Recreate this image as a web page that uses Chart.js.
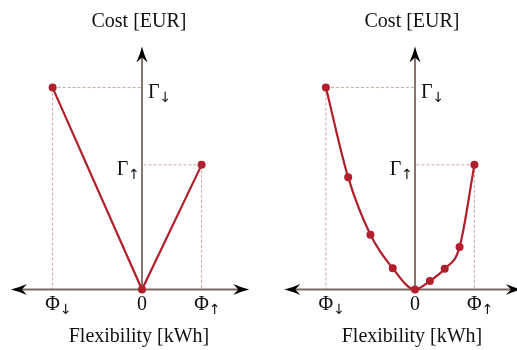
<!DOCTYPE html>
<html>
<head>
<meta charset="utf-8">
<script src="https://cdn.jsdelivr.net/npm/chart.js@4/dist/chart.umd.min.js"></script>
<style>
  html, body { margin: 0; padding: 0; background: #ffffff; }
  #wrap { position: relative; width: 517px; height: 350px; overflow: hidden; }
  canvas { position: absolute; top: 0; }
  #linearCost { left: 0; }
  #curveCost { left: 258px; }
</style>
</head>
<body>
<div id="wrap">
  <canvas id="linearCost" width="258" height="350"></canvas>
  <canvas id="curveCost" width="259" height="350"></canvas>
</div>
<script>
// Flexibility offered (x) against its cost (y), in abstract units.
const linearFlex = [-3, 0, 2];
const linearCost = [8.1, 0, 5.0];

const curveFlex = [-3, -2.25, -1.5, -0.75, 0, 0.5, 1, 1.5, 2];
const curveCost = [8.1, 4.5, 2.2, 0.85, 0, 0.34, 0.83, 1.7, 5.0];

// Tick marks on both axes: value, base symbol, subscript arrow.
const xTickValues = [-3, 0, 2];
const xTickSymbols = ['Φ', '0', 'Φ'];
const xTickSubs = ['↓', '', '↑'];
const yTickValues = [8.1, 5.0];
const yTickSymbols = ['Γ', 'Γ'];
const yTickSubs = ['↓', '↑'];

const xTitle = 'Flexibility [kWh]';
const yTitle = 'Cost [EUR]';

const RED = '#b01f2b';
const AXIS = '#7c685c';
const GUIDE = '#c8a79e';
const FONT = '"Liberation Serif", "DejaVu Serif", serif';
const SUB_FONT = '14px "DejaVu Sans", sans-serif';

function arrowHead(ctx, tx, ty, angle) {
  ctx.save();
  ctx.translate(tx, ty);
  ctx.rotate(angle);
  ctx.beginPath();
  ctx.moveTo(0, 0);
  ctx.quadraticCurveTo(-7, -1.6, -16, -5.6);
  ctx.lineTo(-11, 0);
  ctx.lineTo(-16, 5.6);
  ctx.quadraticCurveTo(-7, 1.6, 0, 0);
  ctx.closePath();
  ctx.fillStyle = '#000000';
  ctx.fill();
  ctx.restore();
}

function symbolWithSub(ctx, base, sub, x, y, align) {
  ctx.font = '20px ' + FONT;
  const wb = ctx.measureText(base).width;
  ctx.font = SUB_FONT;
  const ws = sub ? ctx.measureText(sub).width : 0;
  let left;
  if (align === 'center') left = x - wb / 2;
  else if (align === 'right') left = x - wb - ws;
  else left = x;
  ctx.textAlign = 'left';
  ctx.textBaseline = 'alphabetic';
  ctx.fillStyle = '#111111';
  ctx.font = '20px ' + FONT;
  ctx.fillText(base, left, y);
  if (sub) {
    ctx.font = SUB_FONT;
    ctx.fillText(sub, left + wb, y + 4);
  }
}

const sketchAxes = {
  id: 'sketchAxes',
  beforeDatasetsDraw(chart, args, opts) {
    const { ctx, scales: { x, y } } = chart;
    const x0 = x.getPixelForValue(0);
    const y0 = y.getPixelForValue(0);
    const xs = chart.data.datasets[0].data;
    ctx.save();
    // dashed guides from the end points to both axes
    ctx.strokeStyle = GUIDE;
    ctx.lineWidth = 1;
    ctx.setLineDash([3, 2]);
    [xs[0], xs[xs.length - 1]].forEach(p => {
      const px = x.getPixelForValue(p.x);
      const py = y.getPixelForValue(p.y);
      ctx.beginPath();
      ctx.moveTo(px, py); ctx.lineTo(x0, py);
      ctx.moveTo(px, py); ctx.lineTo(px, y0);
      ctx.stroke();
    });
    ctx.setLineDash([]);
    // axes
    const xl = x.getPixelForValue(opts.xFrom);
    const xr = x.getPixelForValue(opts.xTo);
    const yt = y.getPixelForValue(opts.yTo);
    ctx.strokeStyle = AXIS;
    ctx.lineWidth = 1.8;
    ctx.beginPath();
    ctx.moveTo(xl + 10, y0); ctx.lineTo(xr - 10, y0);
    ctx.moveTo(x0, y0); ctx.lineTo(x0, yt + 10);
    ctx.stroke();
    arrowHead(ctx, xr, y0, 0);
    arrowHead(ctx, xl, y0, Math.PI);
    arrowHead(ctx, x0, yt, -Math.PI / 2);
    ctx.restore();
  },
  afterDatasetsDraw(chart) {
    const { ctx, scales: { x, y } } = chart;
    const x0 = x.getPixelForValue(0);
    const y0 = y.getPixelForValue(0);
    ctx.save();
    xTickValues.forEach((v, i) => {
      symbolWithSub(ctx, xTickSymbols[i], xTickSubs[i], x.getPixelForValue(v), y0 + 21, 'center');
    });
    yTickValues.forEach((v, i) => {
      const py = y.getPixelForValue(v) + 10;
      if (i === 0) symbolWithSub(ctx, yTickSymbols[i], yTickSubs[i], x0 + 6, py, 'left');
      else symbolWithSub(ctx, yTickSymbols[i], yTickSubs[i], x0 - 2, py, 'right');
    });
    ctx.font = '20px ' + FONT;
    ctx.fillStyle = '#111111';
    ctx.textAlign = 'center';
    ctx.textBaseline = 'alphabetic';
    ctx.fillText(yTitle, x0 - 3, 27);
    ctx.fillText(xTitle, x0 - 3, 342);
    ctx.restore();
  }
};

function makeChart(id, flex, cost, xMin, xMax, smooth) {
  const points = flex.map((v, i) => ({ x: v, y: cost[i] }));
  return new Chart(document.getElementById(id), {
    type: 'line',
    data: {
      datasets: [{
        data: points,
        borderColor: RED,
        backgroundColor: RED,
        borderWidth: 2.2,
        pointRadius: 4,
        pointBorderWidth: 0,
        pointBackgroundColor: RED,
        cubicInterpolationMode: smooth ? 'monotone' : 'default',
        tension: 0,
        clip: false
      }]
    },
    options: {
      responsive: false,
      animation: false,
      devicePixelRatio: 1,
      layout: { padding: 0, autoPadding: false },
      plugins: {
        legend: { display: false },
        tooltip: { enabled: false },
        sketchAxes: { xFrom: -4.4, xTo: 3.6, yTo: 9.75 }
      },
      scales: {
        x: { type: 'linear', display: false, min: xMin, max: xMax },
        y: { type: 'linear', display: false, min: -2.427, max: 11.613 }
      }
    },
    plugins: [sketchAxes]
  });
}

makeChart('linearCost', linearFlex, linearCost, -4.765, 3.893, false);
makeChart('curveCost', curveFlex, curveCost, -5.286, 3.434, true);
</script>
</body>
</html>
